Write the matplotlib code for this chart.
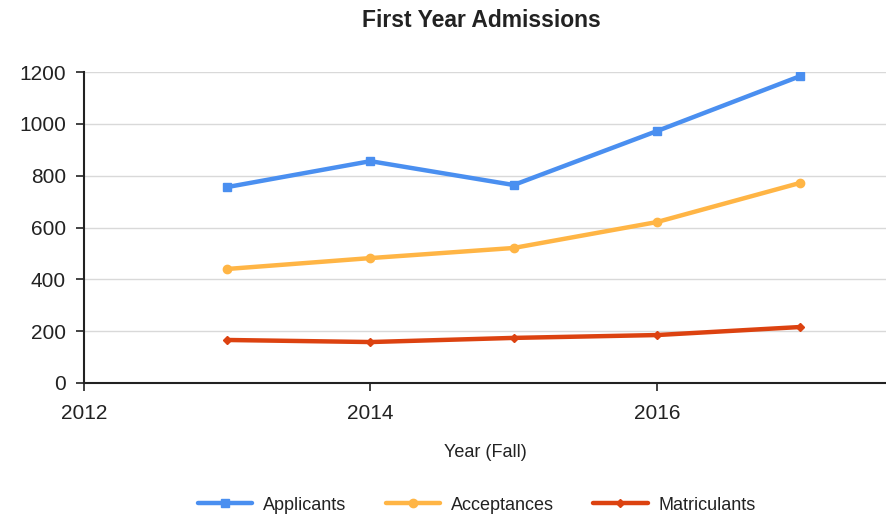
import numpy as np
import matplotlib
matplotlib.use('Agg')
import matplotlib.pyplot as plt

plt.rcParams['font.family'] = ['Liberation Sans', 'DejaVu Sans']

# data
years = [2013, 2014, 2015, 2016, 2017]
applicants = [756, 856, 764, 972, 1184]
acceptances = [440, 482, 521, 621, 772]
matriculants = [166, 158, 174, 185, 216]

series = [
    ('Applicants', applicants, '#4a8ff0', 's', 6),
    ('Acceptances', acceptances, '#ffb545', 'o', 6),
    ('Matriculants', matriculants, '#dc4210', 'D', 4),
]

fig = plt.figure(figsize=(8.86, 5.17), dpi=100)
ax = fig.add_axes([0.0948, 0.2592, 0.9052, 0.6015])

for name, vals, col, mk, ms in series:
    ax.plot(years, vals, color=col, lw=3.2, marker=mk, markersize=ms,
            label=name, solid_joinstyle='round', solid_capstyle='round')

ax.set_xlim(2012, 2017.6)
ax.set_ylim(0, 1200)
ax.set_xticks([2012, 2014, 2016])
ax.set_yticks(np.arange(0, 1201, 200))
ax.grid(axis='y', color='#d9d9d9', lw=1)
ax.set_axisbelow(True)
for s in ['top', 'right']:
    ax.spines[s].set_visible(False)
for s in ['left', 'bottom']:
    ax.spines[s].set_color('#222222')
    ax.spines[s].set_linewidth(1.5)
ax.tick_params(axis='both', labelsize=15, length=6, width=1.2, color='#222222',
               labelcolor='#222222')
ax.tick_params(axis='x', pad=9)
ax.tick_params(axis='y', pad=7)

ax.set_xlabel('Year (Fall)', fontsize=13, color='#222222', labelpad=15)
fig.text(0.543, 0.961, 'First Year Admissions', fontsize=16.5, fontweight='bold',
         color='#222222', ha='center', va='center')

fig.legend(loc='center', bbox_to_anchor=(0.538, 0.023), ncol=3, frameon=False,
           fontsize=13, handlelength=3, columnspacing=2.2, handletextpad=0.6,
           labelcolor='#222222')

fig.savefig('out.png', dpi=100)
plt.close(fig)
